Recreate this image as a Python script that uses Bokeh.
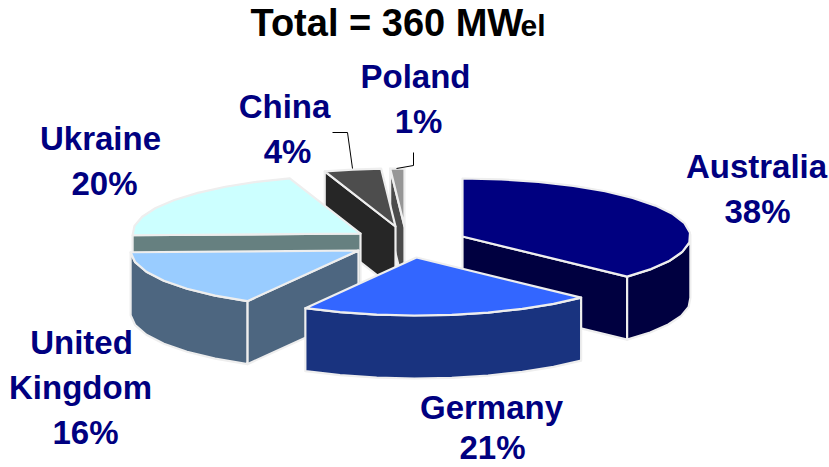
import numpy as np
from bokeh.core.properties import value
from bokeh.embed import file_html
from bokeh.models import Range1d
from bokeh.plotting import figure
from bokeh.resources import INLINE

# Installed capacity shares, clockwise from twelve o'clock
countries = ["Australia", "Germany", "United Kingdom", "Ukraine", "China", "Poland"]
shares = [38, 21, 16, 20, 4, 1]
top_colors = ["#000080", "#3366FF", "#99CCFF", "#CCFFFF", "#4D4D4D", "#969696"]
side_colors = ["#000040", "#19337F", "#4D6680", "#668080", "#262626", "#4B4B4B"]

# Where each exploded slice's apex lands on the canvas
apex_x = {"Australia": 462, "Germany": 416, "United Kingdom": 358, "Ukraine": 360, "China": 395, "Poland": 404}
apex_y = {"Australia": 236, "Germany": 257, "United Kingdom": 250, "Ukraine": 233, "China": 226, "Poland": 226}

# Back-to-front painting order
paint_order = ["Poland", "China", "Australia", "Ukraine", "United Kingdom", "Germany"]

RADIUS_X, RADIUS_Y, DEPTH = 228, 58, 63
ARC_STEP = 10.0
EDGE = "#EEEEEE"
NAVY = "#000080"
FONT = "Liberation Sans"


def view_angle(theta):
    # slight skew of the tilted view, strongest at the lower left of the disc
    return theta - 3.5 * np.sin(np.radians(theta) / 2) ** 2


def rim(cx, cy, theta):
    phi = np.radians(view_angle(theta))
    return cx + RADIUS_X * np.sin(phi), cy - RADIUS_Y * np.cos(phi)


def arc_angles(a, b):
    n = max(2, int(np.ceil((b - a) / ARC_STEP)) + 1)
    return np.linspace(a, b, n)


def faces_viewer(normal_deg):
    return -np.cos(np.radians(normal_deg)) > 1e-6


p = figure(width=829, height=467, output_backend="svg", toolbar_location=None,
           x_range=Range1d(0, 829), y_range=Range1d(467, 0), min_border=0)
p.axis.visible = False
p.grid.visible = False
p.outline_line_color = None
p.background_fill_color = "white"
p.border_fill_color = "white"


def face(xs, ys, color):
    p.patch(list(xs), list(ys), fill_color=color, line_color=EDGE, line_width=2.2, line_join="round")


fractions = np.array(shares, dtype=float) / sum(shares) * 360
ends = np.cumsum(fractions)
starts = ends - fractions

for name in paint_order:
    i = countries.index(name)
    a, b = starts[i], ends[i]
    cx, cy = apex_x[name], apex_y[name]
    top, side = top_colors[i], side_colors[i]

    # radial walls that turn toward the viewer
    for theta, normal in ((a, a - 90), (b, b + 90)):
        if faces_viewer(normal):
            rx, ry = rim(cx, cy, theta)
            face([cx, rx, rx, cx], [cy, ry, ry + DEPTH, cy + DEPTH], side)

    # outer wall on the front half of the disc
    lo, hi = max(a, 90), min(b, 270)
    if hi > lo:
        t = arc_angles(lo, hi)
        xs, ys = rim(cx, cy, t)
        face(np.r_[xs, xs[::-1]], np.r_[ys, ys[::-1] + DEPTH], side)

    # top face
    t = arc_angles(a, b)
    xs, ys = rim(cx, cy, t)
    face(np.r_[cx, xs], np.r_[cy, ys], top)

# Leader lines for the two small slices
p.line([332, 347, 352], [132, 132, 168], line_color="black", line_width=1)
p.line([413, 413, 396], [152, 165, 168], line_color="black", line_width=1)

# Slice labels: text, centre x, baseline y
label_rows = [
    ("Poland", 415, 88), ("1%", 418, 133),
    ("China", 284, 118), ("4%", 287, 163),
    ("Ukraine", 100, 150), ("20%", 104, 195),
    ("Australia", 756, 178), ("38%", 757, 223),
    ("United", 81, 354), ("Kingdom", 80, 399), ("16%", 85, 444),
    ("Germany", 491, 419), ("21%", 492, 459),
]
# The svg text box sits lower than the nominal baseline, so each size gets a lift
p.text([r[1] for r in label_rows], [r[2] for r in label_rows], text=[r[0] for r in label_rows],
       text_color=NAVY, text_font=value(FONT), text_font_style="bold", text_font_size="33px",
       text_align="center", text_baseline="alphabetic", y_offset=-12)

# Title, with the smaller unit suffix on the same baseline
p.text([250], [35], text=["Total = 360 MW"], text_color="black", text_font=value(FONT),
       text_font_style="bold", text_font_size="38px", text_align="left", text_baseline="alphabetic",
       y_offset=-13)
p.text([520], [35], text=["el"], text_color="black", text_font=value(FONT),
       text_font_style="bold", text_font_size="30px", text_align="left", text_baseline="alphabetic",
       y_offset=-10)

open("out.html", "w").write(file_html(p, INLINE))
